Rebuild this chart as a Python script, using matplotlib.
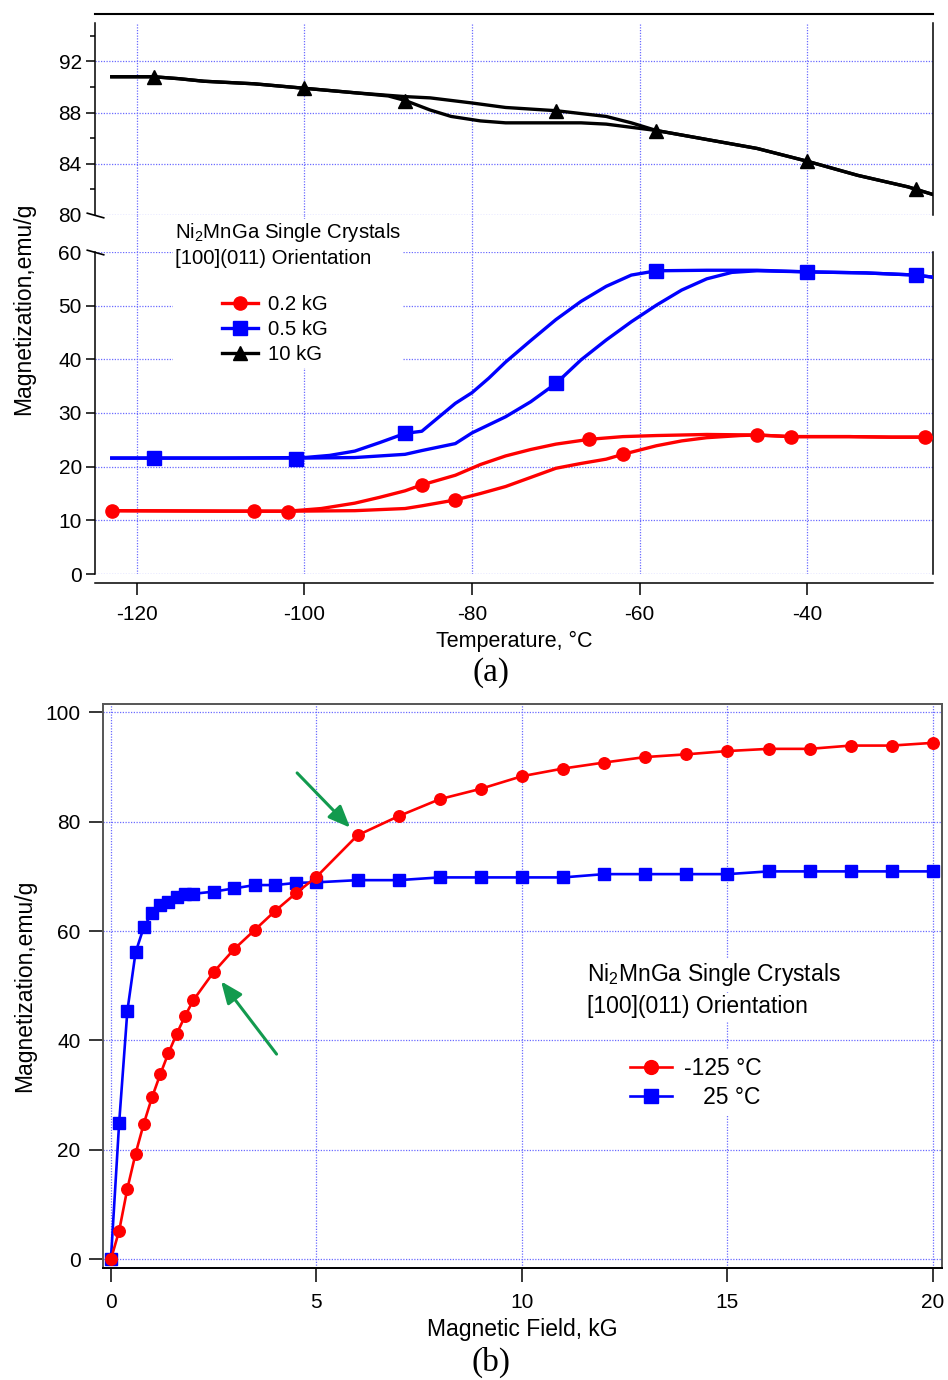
import matplotlib
matplotlib.use('Agg')
import matplotlib.pyplot as plt
from matplotlib.lines import Line2D
from matplotlib.patches import Rectangle

plt.rcParams['font.family'] = ['Liberation Sans', 'DejaVu Sans']
plt.rcParams['mathtext.fontset'] = 'custom'
plt.rcParams['mathtext.rm'] = 'Liberation Sans'
plt.rcParams['mathtext.it'] = 'Liberation Sans:italic'
plt.rcParams['axes.unicode_minus'] = False

# ---------------- panel (a) data: M vs T ----------------
# 10 kG, two branches (they split between -90 and -58 C)
t10_a = [-123, -118, -115, -112, -106, -100, -94, -88, -85, -80, -76, -70, -64, -61, -58, -52, -46, -40, -34, -28, -25]
m10_a = [90.8, 90.8, 90.65, 90.45, 90.25, 89.9, 89.55, 89.25, 89.15, 88.75, 88.4, 88.15, 87.7, 87.2, 86.6, 85.9, 85.2, 84.2, 83.1, 82.2, 81.6]
t10_b = [-123, -118, -115, -112, -106, -100, -94, -90, -88, -85, -82.5, -79, -76, -67, -64, -61, -58, -52, -46, -40, -34, -28, -25]
m10_b = [90.8, 90.8, 90.65, 90.45, 90.25, 89.9, 89.55, 89.3, 88.95, 88.2, 87.7, 87.35, 87.2, 87.2, 87.1, 86.85, 86.6, 85.9, 85.2, 84.2, 83.1, 82.2, 81.6]
t10_mk = [-118, -100, -88, -70, -58, -40, -27]
m10_mk = [90.8, 89.9, 88.9, 88.15, 86.6, 84.2, 82.0]

# 0.5 kG
t05_a = [-123, -110, -100, -97, -94, -91, -88, -86, -84, -82, -80, -78, -76, -73, -70, -67, -64, -61, -58, -52, -46, -40, -33, -27, -25]
m05_a = [21.6, 21.6, 21.7, 22.1, 22.9, 24.5, 26.2, 26.6, 29.2, 31.8, 33.8, 36.5, 39.5, 43.5, 47.4, 50.8, 53.6, 55.7, 56.5, 56.6, 56.6, 56.3, 56.1, 55.7, 55.3]
t05_b = [-123, -100, -94, -88, -86, -82, -80, -76, -73, -70, -67, -64, -61, -58, -55, -52, -49, -46, -40, -33, -27, -25]
m05_b = [21.6, 21.6, 21.7, 22.3, 23.0, 24.3, 26.3, 29.3, 32.1, 35.5, 39.9, 43.6, 47.0, 50.1, 52.9, 55.0, 56.2, 56.5, 56.3, 56.1, 55.7, 55.3]
t05_mk = [-118, -101, -88, -70, -58, -40, -27]
m05_mk = [21.6, 21.5, 26.2, 35.5, 56.5, 56.3, 55.7]

# 0.2 kG
t02_a = [-123, -110, -102, -98, -94, -91, -88, -86, -82, -79, -76, -73, -70, -66, -62, -58, -52, -46, -42, -35, -30, -26, -25]
m02_a = [11.8, 11.7, 11.7, 12.2, 13.2, 14.3, 15.5, 16.6, 18.4, 20.4, 22.0, 23.2, 24.2, 25.1, 25.6, 25.8, 26.0, 25.9, 25.6, 25.6, 25.5, 25.5, 25.4]
t02_b = [-123, -102, -94, -88, -86, -82, -79, -76, -73, -70, -67, -64, -62, -58, -55, -52, -48, -46, -42, -35, -30, -26, -25]
m02_b = [11.8, 11.7, 11.8, 12.2, 12.7, 13.8, 15.0, 16.3, 18.0, 19.7, 20.6, 21.4, 22.3, 23.9, 24.8, 25.4, 25.8, 25.9, 25.6, 25.6, 25.5, 25.5, 25.4]
t02_mk = [-123, -106, -102, -86, -82, -66, -62, -46, -42, -26]
m02_mk = [11.8, 11.8, 11.6, 16.6, 13.8, 25.1, 22.3, 25.9, 25.6, 25.5]

a_xticks = [-120, -100, -80, -60, -40]
a_up_major = [80, 84, 88, 92]
a_up_minor = [82, 86, 90, 94]
a_lo_major = [0, 10, 20, 30, 40, 50, 60]
a_labels = ['0.2 kG', '0.5 kG', '10 kG']

# ---------------- panel (b) data: M vs H ----------------
h_field = [0, 0.2, 0.4, 0.6, 0.8, 1.0, 1.2, 1.4, 1.6, 1.8, 2.0, 2.5, 3.0, 3.5, 4.0, 4.5, 5.0,
           6, 7, 8, 9, 10, 11, 12, 13, 14, 15, 16, 17, 18, 19, 20]
m_cold = [0, 5.2, 12.9, 19.3, 24.8, 29.6, 33.8, 37.7, 41.2, 44.4, 47.3, 52.5, 56.7, 60.2, 63.7, 66.9, 69.9,
          77.5, 81.0, 84.1, 86.0, 88.3, 89.7, 90.8, 91.8, 92.3, 92.9, 93.3, 93.3, 93.9, 93.9, 94.4]
m_warm = [0, 24.9, 45.4, 56.1, 60.7, 63.3, 64.7, 65.3, 66.2, 66.8, 66.8, 67.2, 67.8, 68.4, 68.4, 68.8, 68.9,
          69.3, 69.3, 69.8, 69.8, 69.8, 69.8, 70.4, 70.4, 70.4, 70.4, 70.9, 70.9, 70.9, 70.9, 70.9]
b_labels = ['-125 \u00b0C', '   25 \u00b0C']
b_xticks = [0, 5, 10, 15, 20]
b_yticks = [0, 20, 40, 60, 80, 100]
# arrows: (tail x, tail y, tip x, tip y)
arrow1 = (4.53, 88.9, 5.82, 78.9)
arrow2 = (4.03, 37.5, 2.68, 50.8)

W, H = 948, 1380
def fx(px):
    return px / W
def fy(py):
    return 1 - py / H

grid_kw = dict(color='#6b6bff', linestyle=(0, (1, 1.2)), linewidth=0.9)
RED, BLUE = '#ff0000', '#0000ff'

fig = plt.figure(figsize=(9.48, 13.8), dpi=100)

ax_up = fig.add_axes([fx(95), fy(215), fx(933) - fx(95), fy(23) - fy(215)], zorder=1)
ax_gap = fig.add_axes([fx(95), fy(252), fx(933) - fx(95), fy(215) - fy(252)], zorder=0)
ax_lo = fig.add_axes([fx(95), fy(574), fx(933) - fx(95), fy(252) - fy(574)], zorder=2)

lw_a = 2.4
# upper part (10 kG)
ax_up.plot(t10_a, m10_a, color='k', lw=lw_a, zorder=3)
ax_up.plot(t10_b, m10_b, color='k', lw=lw_a, zorder=3)
ax_up.plot(t10_mk, m10_mk, 'k^', ms=10, zorder=4)
# lower part
ax_lo.plot(t05_a, m05_a, color=BLUE, lw=lw_a, zorder=3)
ax_lo.plot(t05_b, m05_b, color=BLUE, lw=lw_a, zorder=3)
ax_lo.plot(t05_mk, m05_mk, 's', color=BLUE, ms=10, zorder=4)
ax_lo.plot(t02_a, m02_a, color=RED, lw=lw_a, zorder=3)
ax_lo.plot(t02_b, m02_b, color=RED, lw=lw_a, zorder=3)
ax_lo.plot(t02_mk, m02_mk, 'o', color=RED, ms=9.5, zorder=4)

for ax in (ax_up, ax_gap, ax_lo):
    ax.set_xlim(-125, -25)
    ax.set_xticks(a_xticks)
    ax.set_axisbelow(True)

ax_up.set_ylim(80, 95)
ax_up.set_yticks(a_up_major)
ax_up.set_yticks(a_up_minor, minor=True)
ax_up.grid(True, axis='both', which='major', **grid_kw)
ax_up.spines['bottom'].set_visible(False)
ax_up.spines['top'].set_position(('outward', 6.5))
ax_up.tick_params(axis='x', bottom=False, labelbottom=False)
ax_up.tick_params(axis='y', which='major', length=6.5, width=1.1, labelsize=15, pad=3)
ax_up.tick_params(axis='y', which='minor', length=3.6, width=1.1)
ax_up.yaxis.get_major_ticks()[0].tick1line.set_visible(False)

ax_gap.set_ylim(0, 1)
for xv in a_xticks:
    ax_gap.axvline(xv, **grid_kw)
for s in ax_gap.spines.values():
    s.set_visible(False)
ax_gap.set_xticks([])
ax_gap.set_yticks([])

ax_lo.set_ylim(0, 60)
ax_lo.set_yticks(a_lo_major)
ax_lo.grid(True, axis='both', which='major', **grid_kw)
ax_lo.spines['top'].set_visible(False)
ax_lo.spines['bottom'].set_position(('outward', 6.5))
ax_lo.tick_params(axis='y', length=6.5, width=1.1, labelsize=15, pad=3)
ax_lo.tick_params(axis='x', length=8.6, width=1.1, labelsize=15, pad=7)
ax_lo.yaxis.get_major_ticks()[-1].tick1line.set_visible(False)
ax_lo.set_xlabel('Temperature, \u00b0C', fontsize=15.5, labelpad=5)

for ax in (ax_up, ax_lo):
    for s in ax.spines.values():
        s.set_linewidth(1.1)
ax_up.spines['top'].set_linewidth(1.5)

# axis break marks
brk = dict(marker=[(-1, 0.28), (1, -0.28)], markersize=13, mew=1.2, color='k',
           linestyle='none', clip_on=False, zorder=10)
ax_up.plot([0], [0], transform=ax_up.transAxes, **brk)
ax_lo.plot([0], [1], transform=ax_lo.transAxes, **brk)

# white box behind the note and legend
ax_lo.add_artist(Rectangle((fx(173), fy(368)), fx(402) - fx(173), fy(219) - fy(368),
                           transform=fig.transFigure, facecolor='white', edgecolor='none',
                           zorder=1.5, clip_on=False))
ax_lo.text(fx(175), fy(232), 'Ni$_\\mathrm{2}$MnGa Single Crystals', transform=fig.transFigure,
           fontsize=14.7, va='center', ha='left', zorder=6, clip_on=False)
ax_lo.text(fx(175), fy(258), '[100](011) Orientation', transform=fig.transFigure,
           fontsize=14.7, va='center', ha='left', zorder=6, clip_on=False)

h_a = [Line2D([], [], color=RED, lw=lw_a, marker='o', ms=9.5),
       Line2D([], [], color=BLUE, lw=lw_a, marker='s', ms=9.5),
       Line2D([], [], color='k', lw=lw_a, marker='^', ms=9.5)]
leg_a = ax_lo.legend(h_a, a_labels, loc='upper left', bbox_to_anchor=(fx(222), fy(295)),
                     bbox_transform=fig.transFigure, frameon=False, fontsize=14.7,
                     handlelength=1.75, handletextpad=0.5, labelspacing=0.3,
                     borderpad=0, borderaxespad=0)
leg_a.set_zorder(6)

fig.text(fx(24), fy(309), 'Magnetization,emu/g', rotation=90, fontsize=16.5, ha='center', va='center')
fig.text(fx(491), fy(673), '(a)', fontsize=24, ha='center', va='center', family='Liberation Serif')

# ---------------- panel (b) ----------------
ax_b = fig.add_axes([fx(102.7), fy(1268), fx(942) - fx(102.7), fy(704) - fy(1268)])
lw_b = 1.9
ax_b.plot(h_field, m_warm, '-s', color=BLUE, lw=lw_b, ms=8.5, zorder=3, label=b_labels[1])
ax_b.plot(h_field, m_cold, '-o', color=RED, lw=lw_b, ms=8.3, zorder=4, label=b_labels[0])
ax_b.set_xlim(-0.2, 20.22)
ax_b.set_ylim(-1.6, 101.5)
ax_b.set_xticks(b_xticks)
ax_b.set_yticks(b_yticks)
ax_b.set_axisbelow(True)
ax_b.grid(True, **grid_kw)
for s in ax_b.spines.values():
    s.set_linewidth(1.4)
    s.set_color('#555555')
ax_b.spines['bottom'].set_color('k')
ax_b.tick_params(axis='both', length=10, width=1.1, labelsize=15)
ax_b.tick_params(axis='y', pad=6)
ax_b.tick_params(axis='x', pad=8)
ax_b.set_xlabel('Magnetic Field, kG', fontsize=16.5, labelpad=4)
ax_b.set_ylabel('Magnetization,emu/g', fontsize=16.5, labelpad=7)

for arr in (arrow1, arrow2):
    ax_b.annotate('', xy=(arr[2], arr[3]), xytext=(arr[0], arr[1]),
                  arrowprops=dict(arrowstyle='-|>,head_length=0.6,head_width=0.25', color='#129a4e',
                                  lw=2.2, mutation_scale=22, shrinkA=0, shrinkB=0), zorder=6)

box_w = dict(facecolor='white', edgecolor='none', pad=2)
ax_b.text(fx(587), fy(975), 'Ni$_\\mathrm{2}$MnGa Single Crystals', transform=fig.transFigure,
          fontsize=16.5, ha='left', va='center', bbox=box_w, zorder=6)
ax_b.text(fx(587), fy(1007), '[100](011) Orientation', transform=fig.transFigure,
          fontsize=16.5, ha='left', va='center', bbox=box_w, zorder=6)

hb, lb = ax_b.get_legend_handles_labels()
leg_b = ax_b.legend(hb[::-1], lb[::-1], loc='upper left', bbox_to_anchor=(fx(623), fy(1050)),
                    bbox_transform=fig.transFigure, fontsize=16.5, fancybox=False,
                    edgecolor='none', framealpha=1, handlelength=1.85, handletextpad=0.5,
                    labelspacing=0.25, borderpad=0.3, borderaxespad=0, markerscale=1.2)
leg_b.set_zorder(6)

fig.text(fx(491), fy(1362), '(b)', fontsize=24, ha='center', va='center', family='Liberation Serif')

plt.savefig('out.png', dpi=100)
